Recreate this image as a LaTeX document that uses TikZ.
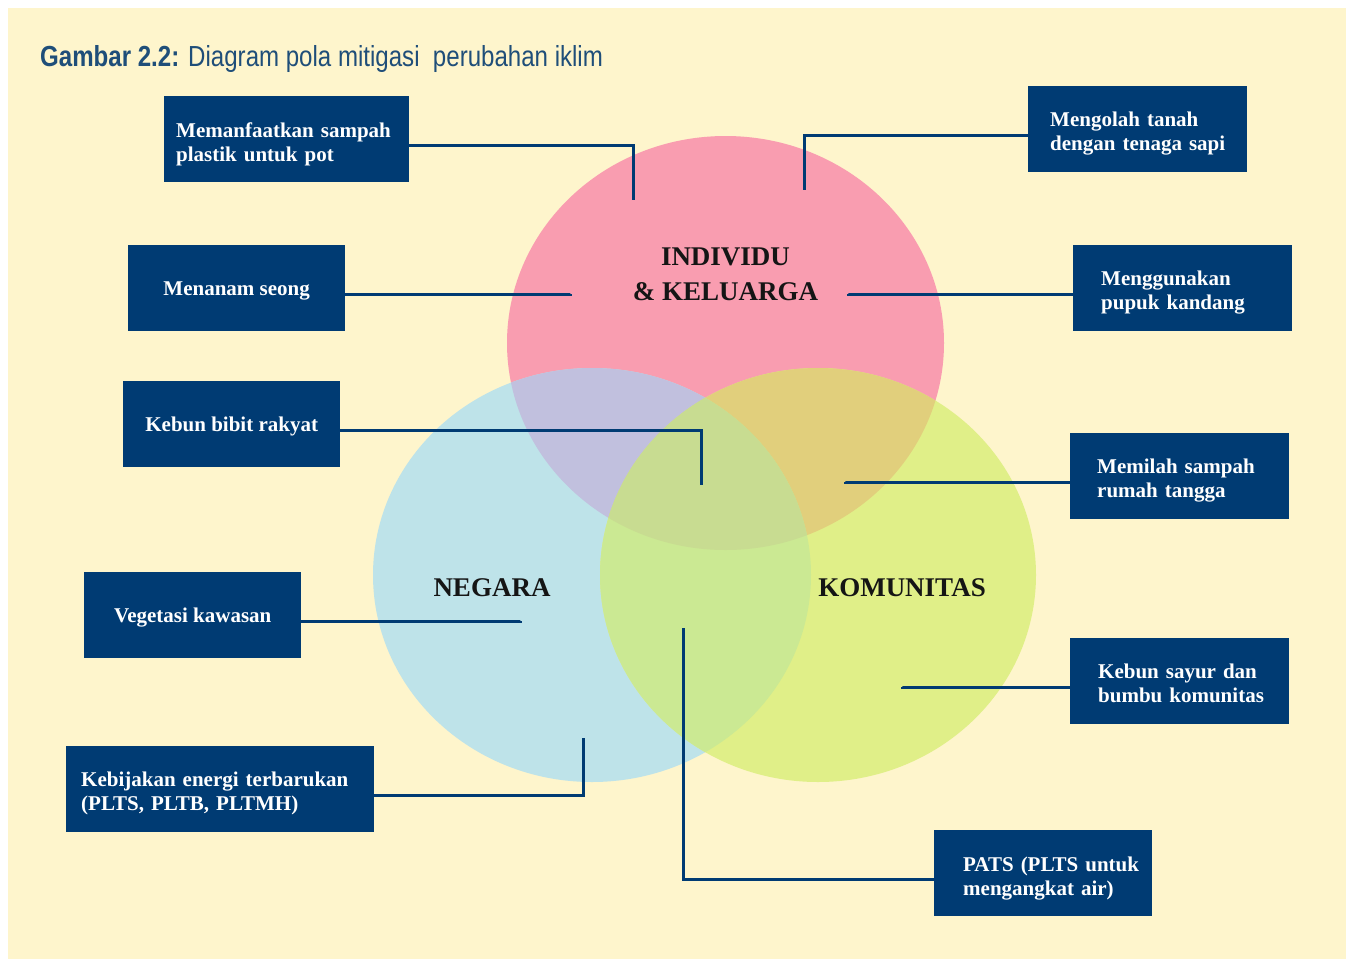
\documentclass[tikz,border=0pt]{standalone}
\usepackage{fontspec}
\setmainfont{Liberation Serif}
\newfontfamily\titlefont[FakeStretch=0.83]{Liberation Sans}
\hyphenpenalty=10000
\exhyphenpenalty=10000

\definecolor{kertas}{HTML}{FEF5CC}
\definecolor{navy}{HTML}{003B73}
\definecolor{judulbiru}{HTML}{1F4E79}
\definecolor{tinta}{HTML}{151515}
\definecolor{merah}{HTML}{F99DB0}
\definecolor{biru}{HTML}{BEE3E9}
\definecolor{hijau}{HTML}{E0EF88}
\definecolor{merahbiru}{HTML}{C1C0DE}
\definecolor{merahhijau}{HTML}{E1CF7C}
\definecolor{biruhijau}{HTML}{CBE993}
\definecolor{tengah}{HTML}{C8DC91}

\begin{document}
\begin{tikzpicture}[x=1pt,y=-1pt,
    box/.style={fill=navy, text=white, anchor=north west, minimum height=86pt,
      inner ysep=0pt, text depth=0pt, font=\fontsize{21}{24}\selectfont\bfseries},
    left box/.style 2 args={box, align=left, text width=#1, inner xsep=#2, text depth=19pt},
    link/.style={draw=navy, line width=3pt},
    ring/.style={text=tinta, align=center, font=\fontsize{27}{35}\selectfont\bfseries}]
	\useasboundingbox (0,0) rectangle (1346,959);
	\fill[white] (0,0) rectangle (1346,959);
	\fill[kertas] (8,8) rectangle (1346,959);

	% three circles and their overlaps
	\coordinate (indC) at (725.5,343);
	\coordinate (negC) at (592,575);
	\coordinate (komC) at (818,575);
	\fill[merah] (indC) ellipse [x radius=218.5, y radius=207];
	\fill[biru] (negC) ellipse [x radius=219, y radius=207];
	\fill[hijau] (komC) ellipse [x radius=218, y radius=207];
	\begin{scope}
		\clip (indC) ellipse [x radius=218.5, y radius=207];
		\fill[merahbiru] (negC) ellipse [x radius=219, y radius=207];
		\fill[merahhijau] (komC) ellipse [x radius=218, y radius=207];
	\end{scope}
	\begin{scope}
		\clip (negC) ellipse [x radius=219, y radius=207];
		\fill[biruhijau] (komC) ellipse [x radius=218, y radius=207];
		\clip (indC) ellipse [x radius=218.5, y radius=207];
		\fill[tengah] (komC) ellipse [x radius=218, y radius=207];
	\end{scope}

	\node[ring] (individu) at (725.5,274) {INDIVIDU\\\& KELUARGA};
	\node[ring] (negara) at (492,588) {NEGARA};
	\node[ring] (komunitas) at (902,588) {KOMUNITAS};

	\node[anchor=base west, inner sep=0pt, text=judulbiru, font=\titlefont\fontsize{29}{31}\selectfont]
		(judul) at (40,66) {\textbf{Gambar 2.2:} Diagram pola mitigasi\ \ perubahan iklim};

	% left side
	\node[left box={221pt}{12pt}] (plastik) at (164,96) {Memanfaatkan~sampah\\plastik~untuk~pot};
	\node[box, minimum width=217pt] (seong) at (128,245) {Menanam seong};
	\node[box, minimum width=217pt] (bibit) at (123,381) {Kebun bibit rakyat};
	\node[box, minimum width=217pt] (vegetasi) at (84,572) {Vegetasi kawasan};
	\node[left box={278pt}{15pt}] (energi) at (66,746) {Kebijakan~energi~terbarukan\\(PLTS,~PLTB,~PLTMH)};

	% right side
	\node[left box={175pt}{22pt}] (sapi) at (1028,86) {Mengolah~tanah\\dengan~tenaga~sapi};
	\node[left box={163pt}{28pt}] (pupuk) at (1073,245) {Menggunakan\\pupuk~kandang};
	\node[left box={165pt}{27pt}] (pilah) at (1070,433) {Memilah~sampah\\rumah~tangga};
	\node[left box={163pt}{28pt}] (sayur) at (1070,638) {Kebun~sayur~dan\\bumbu~komunitas};
	\node[left box={160pt}{29pt}] (pats) at (934,830) {PATS~(PLTS~untuk\\mengangkat~air)};

	% connector ends inside the circles
	\coordinate (plastikEnd) at (633,200);
	\coordinate (seongEnd) at (570,294);
	\coordinate (bibitEnd) at (701,485);
	\coordinate (vegetasiEnd) at (520,621);
	\coordinate (energiEnd) at (583,738);
	\coordinate (sapiEnd) at (804,190);
	\coordinate (pupukEnd) at (848,294);
	\coordinate (pilahEnd) at (845,482);
	\coordinate (sayurEnd) at (902,687);
	\coordinate (patsEnd) at (683,628);

	\draw[link] ([yshift=-6pt]plastik.east) -| (plastikEnd);
	\draw[link] ([yshift=-6pt]seong.east) -| (seongEnd);
	\draw[link] ([yshift=-6pt]bibit.east) -| (bibitEnd);
	\draw[link] ([yshift=-6pt]vegetasi.east) -| (vegetasiEnd);
	\draw[link] ([yshift=-6pt]energi.east) -| (energiEnd);
	\draw[link] ([yshift=-6pt]sapi.west) -| (sapiEnd);
	\draw[link] ([yshift=-6pt]pupuk.west) -| (pupukEnd);
	\draw[link] ([yshift=-6pt]pilah.west) -| (pilahEnd);
	\draw[link] ([yshift=-6pt]sayur.west) -| (sayurEnd);
	\draw[link] ([yshift=-6pt]pats.west) -| (patsEnd);
\end{tikzpicture}
\end{document}
